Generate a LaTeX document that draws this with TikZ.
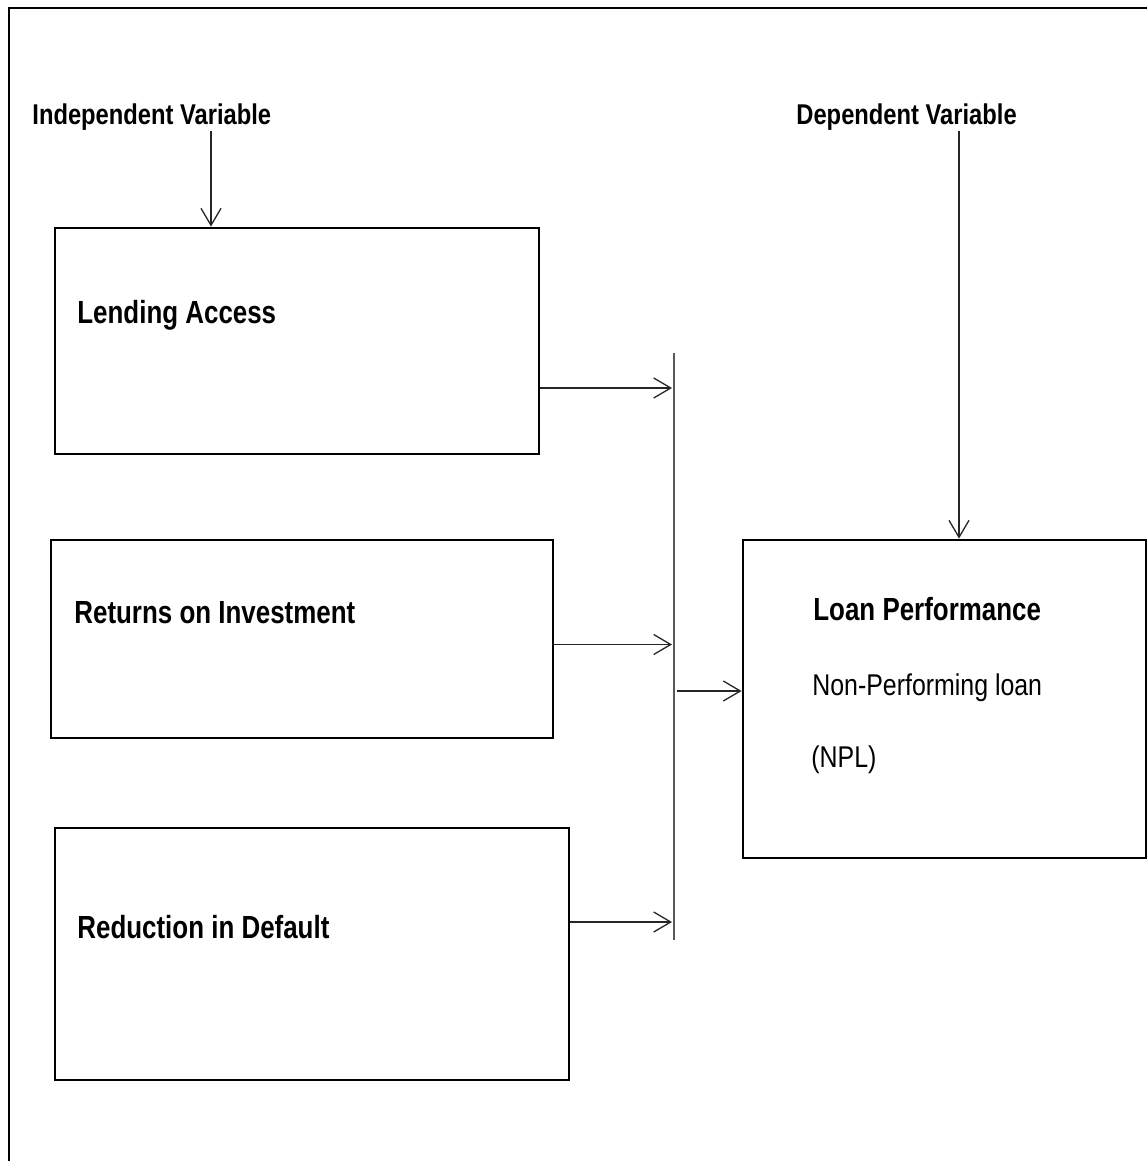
\documentclass[tikz,border=0pt]{standalone}
\usepackage{fontspec}
\setmainfont{Liberation Sans}
\newfontfamily\hdfont{Liberation Sans}[FakeStretch=0.83]
\newfontfamily\bxfont{Liberation Sans}[FakeStretch=0.81]
\newfontfamily\rgfont{Liberation Sans}[FakeStretch=0.83]
\usetikzlibrary{arrows.meta}
\tikzset{
  frameline/.style={line width=1.35pt, black},
  boxnode/.style={draw=black, line width=1.4pt, rectangle, inner sep=0pt},
  arr/.style={line width=0.65pt, draw=black!85, -{Straight Barb[length=8.5pt,width=10pt,line width=0.65pt]}},
  busline/.style={line width=0.75pt, draw=black!65},
  hdtext/.style={anchor=base west, inner sep=0pt, font=\hdfont\fontsize{14.3}{17}\selectfont\bfseries},
  bxtext/.style={anchor=base west, inner sep=0pt, font=\bxfont\fontsize{16}{19}\selectfont\bfseries},
  rgtext/.style={anchor=base west, inner sep=0pt, font=\rgfont\fontsize{15}{18}\selectfont},
}
\begin{document}
\begin{tikzpicture}[x=0.5pt, y=-0.5pt]
\useasboundingbox (0,0) rectangle (1147,1161);
% outer frame (left and top edges visible)
\draw[frameline] (9,1161) -- (9,8) -- (1147,8);

% headers
\node[hdtext] (indep) at (32,125) {Independent Variable};
\node[hdtext] (dep) at (796,125) {Dependent Variable};

% boxes
\node[boxnode, minimum width=242pt, minimum height=113pt] (box1) at (297,341) {};
\node[boxnode, minimum width=251pt, minimum height=99pt] (box2) at (302,639) {};
\node[boxnode, minimum width=257pt, minimum height=126pt] (box3) at (312,954) {};
\node[boxnode, minimum width=201.5pt, minimum height=159pt] (box4) at (944.5,699) {};

% box texts
\node[bxtext] (t1) at (77,323) {Lending Access};
\node[bxtext] (t2) at (74,623) {Returns on Investment};
\node[bxtext] (t3) at (77,938) {Reduction in Default};
\node[bxtext] (t4) at (813,620) {Loan Performance};
\node[rgtext] (t5) at (812,695) {Non-Performing loan};
\node[rgtext] (t6) at (811,767) {(NPL)};

% bus line
\coordinate (busT) at (674,353);
\coordinate (busB) at (674,940);
\draw[busline] (busT) -- (busB);

% header arrows
\coordinate (ia) at (211,131);
\coordinate (da) at (959,131);
\draw[arr] (ia) -- (ia |- box1.north);
\draw[arr] (da) -- (da |- box4.north);

% arrows into bus
\coordinate (y1) at (0,388);
\coordinate (y2) at (0,644.5);
\coordinate (y3) at (0,922);
\coordinate (y4) at (0,691);
\coordinate (bx) at (672,0);
\draw[arr] (box1.east |- y1) -- (bx |- y1);
\draw[arr] (box2.east |- y2) -- (bx |- y2);
\draw[arr] (box3.east |- y3) -- (bx |- y3);
\coordinate (bs) at (677,0);
\draw[arr] (bs |- y4) -- (box4.west |- y4);
\end{tikzpicture}
\end{document}
